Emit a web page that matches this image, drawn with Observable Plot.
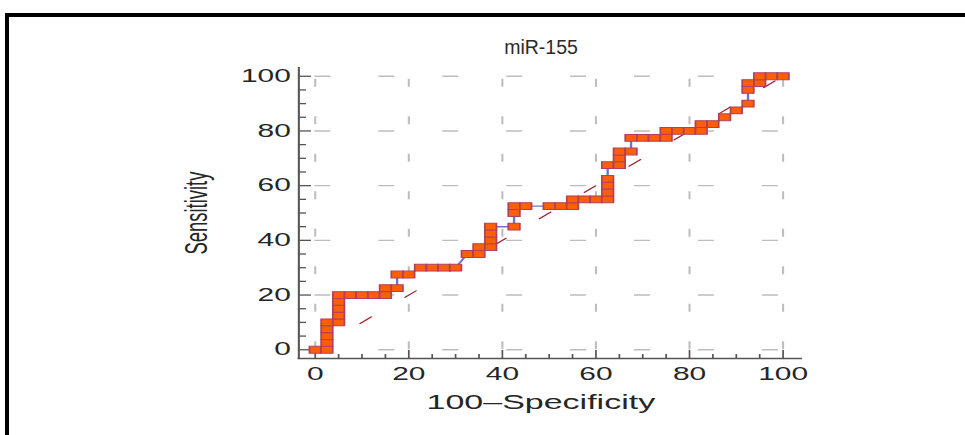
<!DOCTYPE html>
<html><head><meta charset="utf-8">
<script src="https://cdn.jsdelivr.net/npm/d3@7"></script>
<script src="https://cdn.jsdelivr.net/npm/@observablehq/plot@0.6"></script>
<style>
html,body{margin:0;padding:0;background:#fff;}
body{width:965px;height:435px;overflow:hidden;position:relative;font-family:"Liberation Sans",Arial,sans-serif;}
#frame{position:absolute;left:5px;top:13px;width:1000px;height:500px;border-left:4px solid #000;border-top:4px solid #000;box-sizing:border-box;}
#chart{position:absolute;left:0;top:0;transform:scaleX(1.7);transform-origin:0 0;}
#title{position:absolute;left:0;top:36px;width:1082px;text-align:center;font-size:19.5px;line-height:22px;color:#2a2a2a;font-family:"Liberation Sans",Arial,sans-serif;}
</style></head><body>
<div id="frame"></div>
<div id="chart"></div>
<div id="title"></div>
<script>
// ---- data ----
const title = "miR-155";
const xLabel = "100–Specificity";
const yLabel = "Sensitivity";
// ROC points: x = 100 - specificity, y = sensitivity
const fpr  = [0,2.5,2.5,2.5,2.5,2.5,5,5,5,5,5,7.5,10,12.5,15,15,17.5,17.5,20,22.5,25,27.5,30,32.5,35,35,37.5,37.5,37.5,37.5,42.5,42.5,42.5,45,50,52.5,55,55,57.5,60,62.5,62.5,62.5,62.5,62.5,65,65,65,67.5,67.5,70,72.5,75,75,77.5,80,82.5,82.5,85,87.5,90,92.5,92.5,92.5,95,95,97.5,100];
const sens = [0,0,2.5,5,7.5,10,10,12.5,15,17.5,20,20,20,20,20,22.5,22.5,27.5,27.5,30,30,30,30,35,35,37.5,37.5,40,42.5,45,45,50,52.5,52.5,52.5,52.5,52.5,55,55,55,55,57.5,60,62.5,67.5,67.5,70,72.5,72.5,77.5,77.5,77.5,77.5,80,80,80,80,82.5,82.5,85,87.5,90,95,97.5,97.5,100,100,100];
const diagonal = [0, 100];
const majorTicks = [0, 20, 40, 60, 80, 100];
const minorTicks = [5, 10, 15, 25, 30, 35, 45, 50, 55, 65, 70, 75, 85, 90, 95];

// ---- layout (unstretched units; chart is stretched 1.7x horizontally like the reference) ----
const W = 560, H = 435;
const mL = 175.3, mR = 89.4, mT = 67, mB = 77;
const frameW = W - mL - mR, frameH = H - mT - mB;
const pts = fpr.map((x, i) => ({x, y: sens[i]}));
const axisColor = "#555";
const gridColor = "#bdbdbd";

document.getElementById("title").textContent = title;

const plot = Plot.plot({
  width: W, height: H,
  marginLeft: mL, marginRight: mR, marginTop: mT, marginBottom: mB,
  style: {fontFamily: "Liberation Sans, Arial, sans-serif", color: "#262626", background: "transparent", overflow: "visible"},
  x: {domain: [-3.5, 103.8], label: null},
  y: {domain: [-3.2, 103.2], label: null},
  marks: [
    // dashed grid
    Plot.ruleX(majorTicks, {x: d => d, y1: 0, y2: 100, stroke: gridColor, strokeWidth: 1.2, strokeDasharray: "8,29.5"}),
    Plot.ruleY(majorTicks, {y: d => d, x1: 0, x2: 100, stroke: gridColor, strokeWidth: 1.4, strokeDasharray: "9.4,28.2"}),
    // reference diagonal
    Plot.line(diagonal, {x: d => d, y: d => d, stroke: "#9e1f26", strokeWidth: 1, strokeDasharray: "9.3,27.9"}),
    // axis lines
    Plot.frame({anchor: "left", stroke: axisColor, strokeWidth: 1.2}),
    Plot.frame({anchor: "bottom", stroke: axisColor, strokeWidth: 1.5}),
    // inward ticks
    Plot.tickX(majorTicks, {x: d => d, insetTop: frameH - 8, stroke: axisColor, strokeWidth: 1}),
    Plot.tickX(minorTicks, {x: d => d, insetTop: frameH - 4, stroke: axisColor, strokeWidth: 1}),
    Plot.tickY(majorTicks, {y: d => d, insetRight: frameW - 7.6, stroke: axisColor, strokeWidth: 1.3}),
    Plot.tickY(minorTicks, {y: d => d, insetRight: frameW - 4.7, stroke: axisColor, strokeWidth: 1.3}),
    // tick labels
    Plot.axisX({ticks: majorTicks, tickSize: 0, tickPadding: 9, fontSize: 17.6, label: null}),
    Plot.axisY({ticks: majorTicks, tickSize: 0, tickPadding: 4.7, fontSize: 17.6, label: null}),
    // ROC curve + markers
    Plot.line(pts, {x: "x", y: "y", stroke: "#7272cc", strokeWidth: 1.4}),
    Plot.dot(pts, {x: "x", y: "y", symbol: "square", r: 3.85, fill: "#ff5f00", stroke: "#b0405c", strokeWidth: 1}),
    // axis titles
    Plot.text([xLabel], {frameAnchor: "bottom", dy: 50, dx: -5.3, fontSize: 20, fill: "#262626"}),
    Plot.text([yLabel], {frameAnchor: "left", textAnchor: "middle", dx: -60, rotate: -90, fontSize: 18.4, fill: "#262626"})
  ]
});
document.getElementById("chart").appendChild(plot);
</script>
</body></html>
